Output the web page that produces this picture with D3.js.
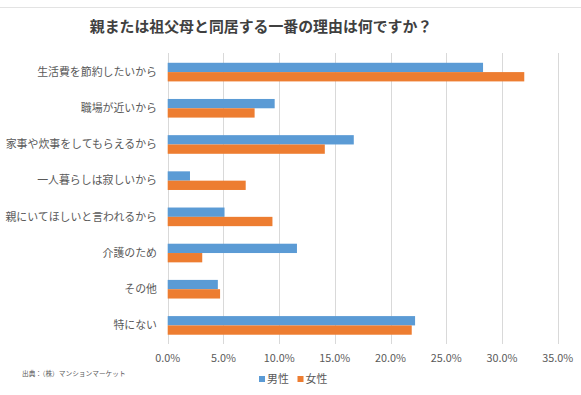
<!DOCTYPE html>
<html>
<head>
<meta charset="utf-8">
<script src="https://cdn.jsdelivr.net/npm/d3@7"></script>
<style>
  body { margin: 0; background: #fff; }
  svg { display: block; font-family: "Noto Sans CJK JP", "Noto Sans", sans-serif; }
</style>
</head>
<body>
<svg id="chart" width="581" height="395"></svg>
<script>
// chart data
var categories = ["生活費を節約したいから", "職場が近いから", "家事や炊事をしてもらえるから",
                  "一人暮らしは寂しいから", "親にいてほしいと言われるから", "介護のため", "その他", "特にない"];
var male   = [28.3, 9.6, 16.7, 2.0, 5.1, 11.6, 4.5, 22.2];
var female = [32.0, 7.8, 14.1, 7.0, 9.4, 3.1, 4.7, 21.9];
var seriesNames = ["男性", "女性"];
var xTicks = [0, 5, 10, 15, 20, 25, 30, 35];
var title = "親または祖父母と同居する一番の理由は何ですか？";
var source = "出典：（株）マンションマーケット";

var colors = ["#5B9BD5", "#ED7D31"];

var svg = d3.select("#chart");

// thin frame line on top
svg.append("line")
    .attr("x1", 0).attr("x2", 581)
    .attr("y1", 7.5).attr("y2", 7.5)
    .attr("stroke", "#e3e3e3");

svg.append("text")
    .attr("x", 261).attr("y", 32)
    .attr("text-anchor", "middle")
    .style("font-size", "14.9px")
    .style("font-weight", "bold")
    .attr("fill", "#404040")
    .text(title);

var x = d3.scaleLinear().domain([0, 35]).range([167.7, 557.7]);
var y = d3.scaleBand().domain(categories).range([54, 343.5]).paddingInner(0.485).paddingOuter(0.2425);
var sub = d3.scaleBand().domain([0, 1]).range([0, y.bandwidth()]);

// gridlines
svg.append("g").selectAll("line")
    .data(xTicks)
    .enter().append("line")
    .attr("x1", function(d){ return Math.round(x(d)) + 0.5; })
    .attr("x2", function(d){ return Math.round(x(d)) + 0.5; })
    .attr("y1", 53).attr("y2", 344)
    .attr("stroke", "#d9d9d9");

// bars
var rows = svg.append("g").selectAll("g")
    .data(categories)
    .enter().append("g")
    .attr("transform", function(d){ return "translate(0," + y(d) + ")"; });

rows.selectAll("rect")
    .data(function(d, i){ return [male[i], female[i]]; })
    .enter().append("rect")
    .attr("x", x(0))
    .attr("y", function(d, j){ return sub(j); })
    .attr("width", function(d){ return x(d) - x(0); })
    .attr("height", sub.bandwidth())
    .attr("fill", function(d, j){ return colors[j]; });

// category labels
svg.append("g").selectAll("text")
    .data(categories)
    .enter().append("text")
    .attr("x", 157)
    .attr("y", function(d){ return y(d) + y.bandwidth() / 2; })
    .attr("dy", "0.35em")
    .attr("text-anchor", "end")
    .style("font-size", "10.9px")
    .attr("fill", "#595959")
    .text(function(d){ return d; });

// x tick labels
svg.append("g").selectAll("text")
    .data(xTicks)
    .enter().append("text")
    .attr("x", function(d){ return x(d); })
    .attr("y", 358)
    .attr("dy", "0.35em")
    .attr("text-anchor", "middle")
    .style("font-size", "10.8px")
    .attr("fill", "#595959")
    .text(function(d){ return d.toFixed(1) + "%"; });

// legend
var legX = [259, 297.5];
var leg = svg.append("g").selectAll("g")
    .data(seriesNames)
    .enter().append("g")
    .attr("transform", function(d, i){ return "translate(" + legX[i] + ",379)"; });
leg.append("rect")
    .attr("x", 0).attr("y", -3)
    .attr("width", 6).attr("height", 6)
    .attr("fill", function(d, i){ return colors[i]; });
leg.append("text")
    .attr("x", 8).attr("dy", "0.35em")
    .style("font-size", "10.9px")
    .attr("fill", "#595959")
    .text(function(d){ return d; });

// source note
svg.append("text")
    .attr("x", 22).attr("y", 374)
    .attr("dy", "0.35em")
    .style("font-size", "6.7px")
    .attr("fill", "#595959")
    .text(source);
</script>
</body>
</html>
